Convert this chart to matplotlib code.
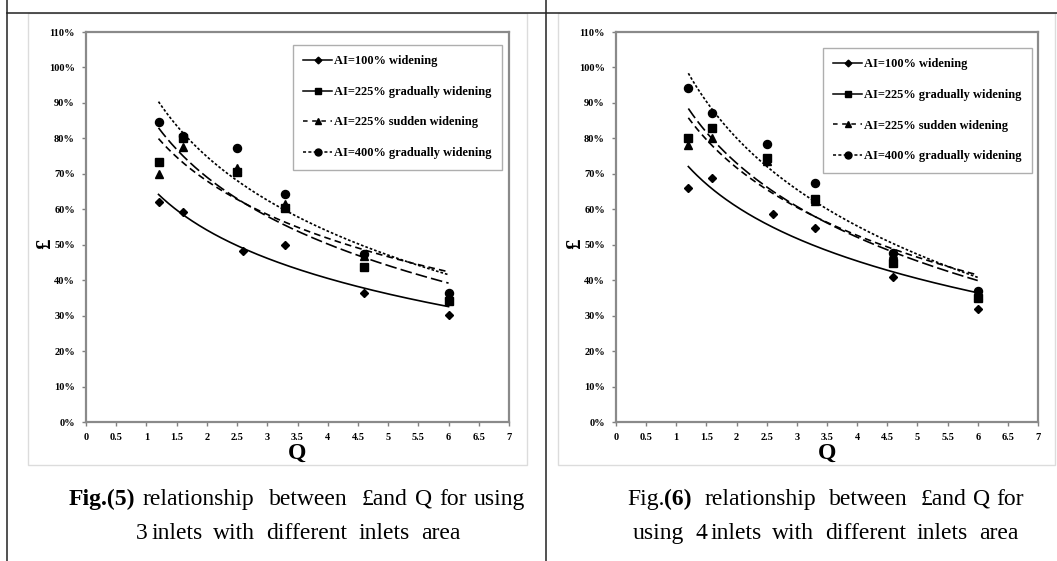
import numpy as np
import matplotlib.pyplot as plt
from matplotlib.lines import Line2D
from matplotlib.patches import Rectangle
from matplotlib.ticker import FuncFormatter

plt.rcParams['font.family'] = ['Liberation Serif', 'DejaVu Serif']

# Q values (diamond series sits a little right at the 3rd point)
q_ai100 = [1.2, 1.6, 2.6, 3.3, 4.6, 6.0]
q_rest = [1.2, 1.6, 2.5, 3.3, 4.6, 6.0]

series_names = ['AI=100% widening', 'AI=225% gradually widening',
                'AI=225% sudden widening', 'AI=400% gradually widening']

# Fig.(5) 3 inlets, efficiency in %
fig5_ai100 = [62.0, 59.3, 48.3, 50.0, 36.5, 30.2]
fig5_ai225g = [73.3, 80.2, 70.5, 60.5, 43.6, 34.0]
fig5_ai225s = [69.9, 77.6, 71.7, 61.4, 46.8, 35.8]
fig5_ai400 = [84.6, 80.8, 77.4, 64.4, 47.3, 36.4]

# Fig.(6) 4 inlets
fig6_ai100 = [65.9, 68.8, 58.6, 54.8, 41.0, 32.0]
fig6_ai225g = [80.0, 82.9, 74.6, 62.8, 44.9, 35.0]
fig6_ai225s = [78.2, 80.0, 73.7, 62.4, 47.3, 35.8]
fig6_ai400 = [94.1, 87.2, 78.4, 67.5, 47.7, 36.9]

y_ticks = list(range(0, 111, 10))
x_ticks = [0, 0.5, 1, 1.5, 2, 2.5, 3, 3.5, 4, 4.5, 5, 5.5, 6, 6.5, 7]

markers = ['D', 's', '^', 'o']
msizes = [4.2, 5.6, 5.6, 5.8]
trend_dash = [None, (7, 2.5), (4, 2.5), (1.6, 1.2)]
legend_ls = ['-', '-', (0, (3, 3)), (0, (2, 1.5))]

W, H = 1057, 561
fig = plt.figure(figsize=(W / 100, H / 100), dpi=100)


def fx(px):
    return px / W


def fy(py):
    return 1 - py / H


# table lines and light chart frames
fig.add_artist(Line2D([fx(7), 1], [fy(13), fy(13)], color='#222222', lw=1.1))
fig.add_artist(Line2D([fx(7), fx(7)], [0, 1], color='#222222', lw=1.1))
fig.add_artist(Line2D([fx(546), fx(546)], [0, 1], color='#222222', lw=1.1))
fig.add_artist(Rectangle((fx(28), fy(465)), fx(527 - 28), (465 - 13) / H,
                         fill=False, ec='#dcdcdc', lw=1))
fig.add_artist(Rectangle((fx(558), fy(465)), fx(1055 - 558), (465 - 13) / H,
                         fill=False, ec='#dcdcdc', lw=1))


def draw_panel(left_px, right_px, data, q_lists, leg_xy):
    ax = fig.add_axes([fx(left_px), fy(422), fx(right_px - left_px), 390 / H])
    for i, vals in enumerate(data):
        q = np.array(q_lists[i])
        v = np.array(vals)
        ax.plot(q, v, ls='none', marker=markers[i], ms=msizes[i], color='black')
        # Excel-like logarithmic trendline fitted to the points
        b, a = np.polyfit(np.log(q), v, 1)
        qq = np.linspace(q.min(), q.max(), 200)
        ln, = ax.plot(qq, a + b * np.log(qq), color='black', lw=1.2)
        if trend_dash[i] is not None:
            ln.set_dashes(trend_dash[i])
    ax.set_xlim(0, 7)
    ax.set_ylim(0, 110)
    ax.set_xticks(x_ticks)
    ax.set_yticks(y_ticks)
    ax.xaxis.set_major_formatter(FuncFormatter(lambda v, p: f'{v:g}'))
    ax.yaxis.set_major_formatter(FuncFormatter(lambda v, p: f'{v:g}%'))
    ax.tick_params(direction='out', length=3, width=1, color='#808080',
                   labelsize=7.5, pad=5)
    for lab in ax.get_xticklabels() + ax.get_yticklabels():
        lab.set_fontweight('bold')
    for s in ax.spines.values():
        s.set_color('#8a8a8a')
        s.set_linewidth(1.6)
    ax.set_xlabel('Q', fontsize=17, fontweight='bold', va='center')
    ax.xaxis.set_label_coords(0.5, -0.08)
    ax.set_ylabel('£', fontsize=15, fontweight='bold', va='center')
    ax.yaxis.set_label_coords(-0.097, 0.456)

    handles = [Line2D([], [], color='black', lw=1.1, ls=legend_ls[i],
                      marker=markers[i], ms=msizes[i] - 0.8)
               for i in range(4)]
    leg = ax.legend(handles, series_names, loc='upper left',
                    bbox_to_anchor=leg_xy, borderaxespad=0, frameon=True,
                    fancybox=False, edgecolor='#9a9a9a', handlelength=2.3,
                    handletextpad=0.15, labelspacing=1.5, borderpad=0.85,
                    prop={'weight': 'bold', 'size': 8.9})
    leg.get_frame().set_linewidth(1)
    return ax


draw_panel(86, 509, [fig5_ai100, fig5_ai225g, fig5_ai225s, fig5_ai400],
           [q_ai100, q_rest, q_rest, q_rest], (0.489, 0.967))
draw_panel(616, 1038, [fig6_ai100, fig6_ai225g, fig6_ai225s, fig6_ai400],
           [q_ai100, q_rest, q_rest, q_rest], (0.4905, 0.959))

# captions: words spread over the measured line width, each gap
# weighted by how many spaces it had in the original
renderer = fig.canvas.get_renderer()


def caption(x0_px, x1_px, y_px, words, gaps, size=17):
    texts = []
    for txt, bold in words:
        t = fig.text(0, fy(y_px), txt, fontsize=size, va='baseline', ha='left',
                     fontweight='bold' if bold else 'normal')
        texts.append(t)
    widths = [t.get_window_extent(renderer=renderer).width for t in texts]
    unit = (x1_px - x0_px - sum(widths)) / max(sum(gaps), 1)
    x = x0_px
    for i, t in enumerate(texts):
        if i > 0:
            x += unit * gaps[i - 1]
        t.set_x(fx(x))
        x += widths[i]


caption(69, 525, 505, [('Fig.(5)', True), ('relationship', False),
                       ('between', False), ('£and', False), ('Q', False),
                       ('for', False), ('using', False)],
        [1, 2, 2, 1, 1, 1])
caption(136, 460, 539, [('3', False), ('inlets', False), ('with', False),
                        ('different', False), ('inlets', False),
                        ('area', False)],
        [0.6, 2, 2, 2, 2])
caption(627, 1024, 505, [('Fig.', False), ('(6)', True),
                         ('relationship', False), ('between', False),
                         ('£and', False), ('Q', False), ('for', False)],
        [0, 2, 2, 2, 1, 1])
caption(633, 1018, 539, [('using', False), ('4', False), ('inlets', False),
                         ('with', False), ('different', False),
                         ('inlets', False), ('area', False)],
        [2, 0.6, 2, 2, 2, 2])

fig.savefig('out.png', dpi=100)
